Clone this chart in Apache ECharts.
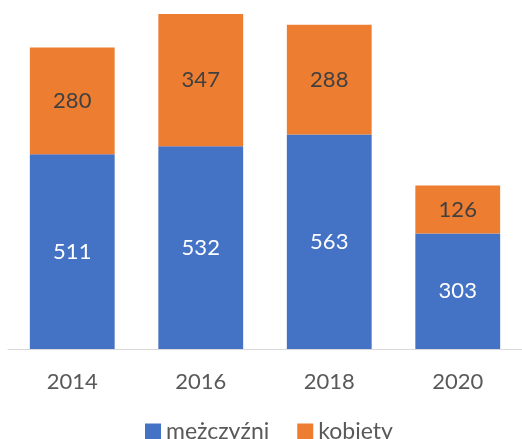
<!DOCTYPE html>
<html>
<head>
<meta charset="utf-8">
<script src="https://cdn.jsdelivr.net/npm/echarts@6/dist/echarts.min.js"></script>
<style>
  html, body { margin: 0; padding: 0; background: #fff; }
  #chart { width: 522px; height: 439px; }
</style>
</head>
<body>
<div id="chart"></div>
<script>
// lata
const years = ['2014', '2016', '2018', '2020']
// mężczyźni
const men = [511, 532, 563, 303]
// kobiety
const women = [280, 347, 288, 126]

const font = 'Lato, "Open Sans", sans-serif'

const chart = echarts.init(document.getElementById('chart'))
chart.setOption({
  animation: false,
  grid: { left: 8, right: -3, top: 14, bottom: 90, containLabel: false },
  legend: {
    top: 420,
    left: 145,
    padding: 0,
    itemWidth: 16,
    itemHeight: 16,
    itemGap: 28,
    icon: 'rect',
    textStyle: { fontFamily: font, fontSize: 23, color: '#595959' },
    data: ['mężczyźni', 'kobiety']
  },
  xAxis: {
    type: 'category',
    data: years,
    axisLine: { lineStyle: { color: '#d9d9d9', width: 1 } },
    axisTick: { show: false },
    axisLabel: { margin: 22, fontFamily: font, fontSize: 22, color: '#595959' }
  },
  yAxis: {
    type: 'value',
    min: 0,
    max: 879,
    show: false,
    splitLine: { show: false }
  },
  series: [
    {
      name: 'mężczyźni',
      type: 'bar',
      stack: 'total',
      data: men,
      barCategoryGap: '34%',
      itemStyle: { color: '#4472c4' },
      label: { show: true, position: 'inside', fontFamily: font, fontSize: 22, color: '#fff' }
    },
    {
      name: 'kobiety',
      type: 'bar',
      stack: 'total',
      data: women,
      itemStyle: { color: '#ed7d31' },
      label: { show: true, position: 'inside', fontFamily: font, fontSize: 22, color: '#404040' }
    }
  ]
})
</script>
</body>
</html>
